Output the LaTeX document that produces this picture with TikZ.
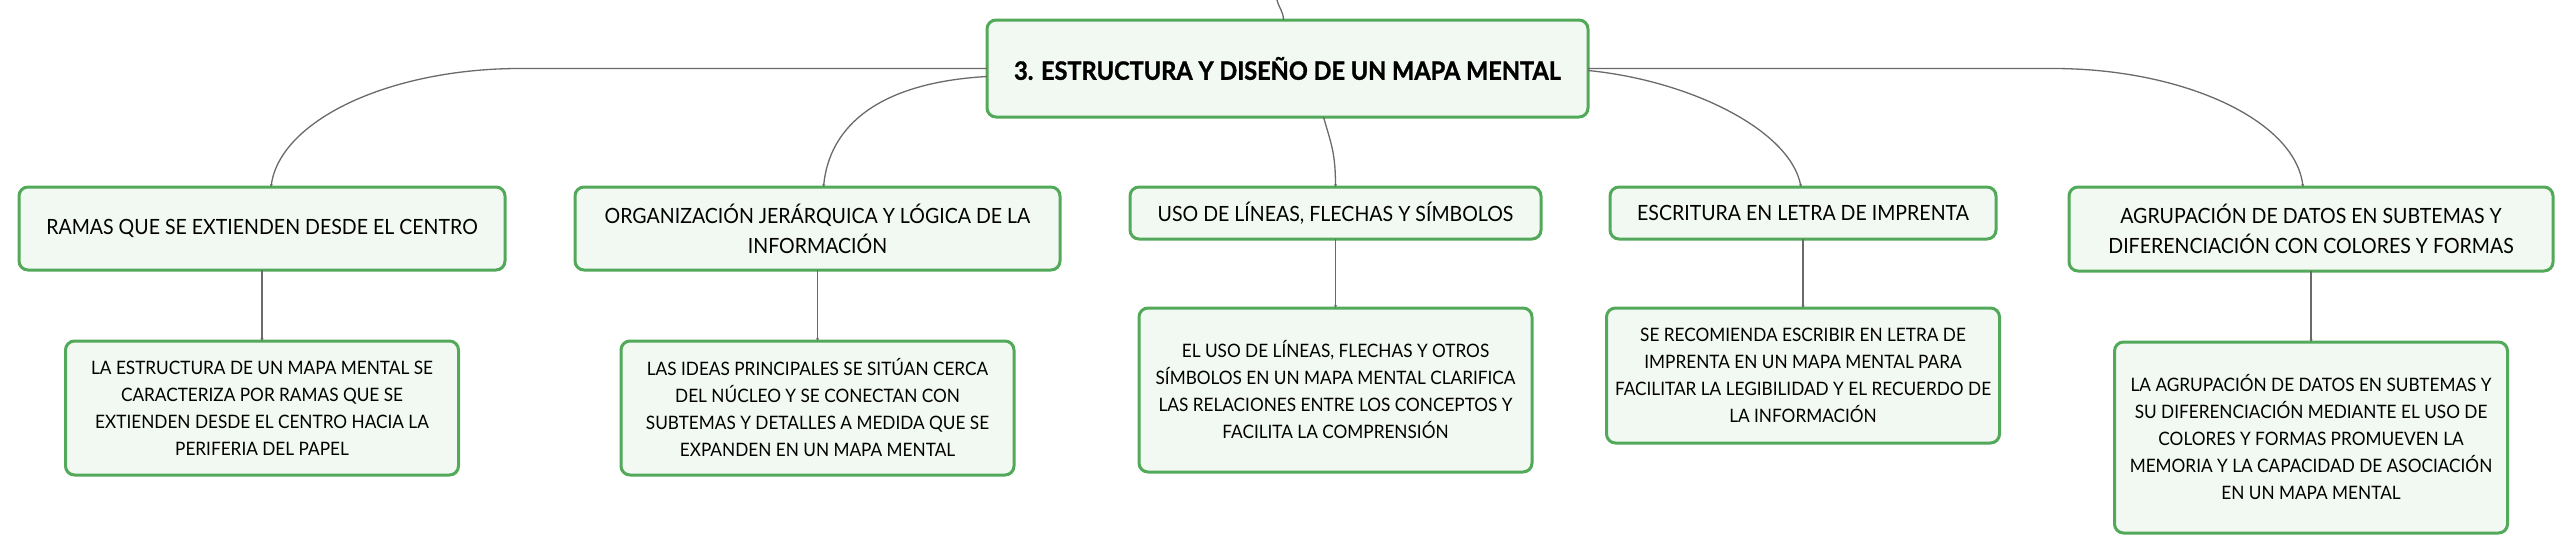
\documentclass[tikz,border=0pt]{standalone}
\usepackage{fontspec}
\setmainfont{Lato}[FakeStretch=0.93, BoldFeatures={FakeBold=1.2}]
\usepackage{tikz}
\usetikzlibrary{positioning}
\usetikzlibrary{arrows.meta}

\definecolor{borde}{HTML}{52A95A}
\definecolor{fondo}{HTML}{F2F8F2}
\definecolor{linea}{HTML}{6A6A6A}

\tikzset{
  caja/.style={draw=borde, fill=fondo, line width=3pt, rounded corners=9pt,
    align=center, inner sep=0pt, outer sep=0pt},
  centro/.style={caja, minimum width=601pt, minimum height=97pt,
    font=\fontsize{25.3}{30}\selectfont\bfseries},
  rama/.style={caja, font=\fontsize{21}{30}\selectfont},
  hoja/.style={caja, minimum width=393pt, font=\fontsize{18.5}{27}\selectfont},
  conn/.style={draw=linea, line width=1.3pt, -{Stealth[length=3pt,width=3pt]}}
}

\begin{document}
\begin{tikzpicture}[x=1pt,y=-1pt]
\useasboundingbox (0,0) rectangle (2575,552);
% The central topic
\node[centro] (C) at (1287.5,68.5) {3. ESTRUCTURA Y DISEÑO DE UN MAPA MENTAL};
\coordinate (top) at (1277,0);
\draw[draw=linea, line width=1.3pt] ([xshift=-4pt]C.north) .. controls +(0,-8) and +(2,8) .. (top);
%%Main branches are placed under the central topic.
\node[rama, anchor=north, minimum width=486pt, minimum height=83pt] (R1) at (262,187)
  {RAMAS QUE SE EXTIENDEN DESDE EL CENTRO};
\node[rama, anchor=north, minimum width=485pt, minimum height=83pt] (R2) at (817.5,187)
  {ORGANIZACIÓN JERÁRQUICA Y LÓGICA DE LA\\INFORMACIÓN};
\node[rama, anchor=north, minimum width=411pt, minimum height=52pt] (R3) at (1335.5,187)
  {USO DE LÍNEAS, FLECHAS Y SÍMBOLOS};
\node[rama, anchor=north, minimum width=386pt, minimum height=52pt] (R4) at (1803,187)
  {ESCRITURA EN LETRA DE IMPRENTA};
\node[rama, anchor=north, minimum width=484pt, minimum height=84pt] (R5) at (2311,187)
  {AGRUPACIÓN DE DATOS EN SUBTEMAS Y\\DIFERENCIACIÓN CON COLORES Y FORMAS};
%%Details under each branch.
\node[hoja, below = 71pt of R1, minimum height=134pt] (D1)
  {LA ESTRUCTURA DE UN MAPA MENTAL SE\\CARACTERIZA POR RAMAS QUE SE\\EXTIENDEN DESDE EL CENTRO HACIA LA\\PERIFERIA DEL PAPEL};
\node[hoja, below = 71pt of R2, minimum height=134pt] (D2)
  {LAS IDEAS PRINCIPALES SE SITÚAN CERCA\\DEL NÚCLEO Y SE CONECTAN CON\\SUBTEMAS Y DETALLES A MEDIDA QUE SE\\EXPANDEN EN UN MAPA MENTAL};
\node[hoja, below = 69pt of R3, minimum height=164pt] (D3)
  {EL USO DE LÍNEAS, FLECHAS Y OTROS\\SÍMBOLOS EN UN MAPA MENTAL CLARIFICA\\LAS RELACIONES ENTRE LOS CONCEPTOS Y\\FACILITA LA COMPRENSIÓN};
\node[hoja, below = 69pt of R4, minimum height=135pt] (D4)
  {SE RECOMIENDA ESCRIBIR EN LETRA DE\\IMPRENTA EN UN MAPA MENTAL PARA\\FACILITAR LA LEGIBILIDAD Y EL RECUERDO DE\\LA INFORMACIÓN};
\node[hoja, below = 71pt of R5, minimum height=191pt] (D5)
  {LA AGRUPACIÓN DE DATOS EN SUBTEMAS Y\\SU DIFERENCIACIÓN MEDIANTE EL USO DE\\COLORES Y FORMAS PROMUEVEN LA\\MEMORIA Y LA CAPACIDAD DE ASOCIACIÓN\\EN UN MAPA MENTAL};
% Curved connectors from the central topic
\draw[conn] (C.west) -- ++(-467,0) .. controls +(-130,0) and +(9,-67) .. ([xshift=9pt]R1.north); % C-R1
\draw[conn] ([yshift=-8pt]C.west) .. controls +(-107,6) and +(6,-62) .. ([xshift=6pt]R2.north); % C-R2
\draw[conn] ([xshift=36pt]C.south) .. controls +(7,25) and +(0,-35) .. (R3.north); % C-R3
\draw[conn] ([yshift=-2pt]C.east) .. controls +(102,10) and +(-11,-57) .. ([xshift=-2pt]R4.north); % C-R4
\draw[conn] (C.east) -- ++(465,0) .. controls +(130,0) and +(-8,-67) .. ([xshift=-8pt]R5.north); % C-R5
% Straight connectors to the details
\foreach \i in {1,...,5}
  \draw[conn] (R\i.south) -- (D\i.north);
\end{tikzpicture}
\end{document}
